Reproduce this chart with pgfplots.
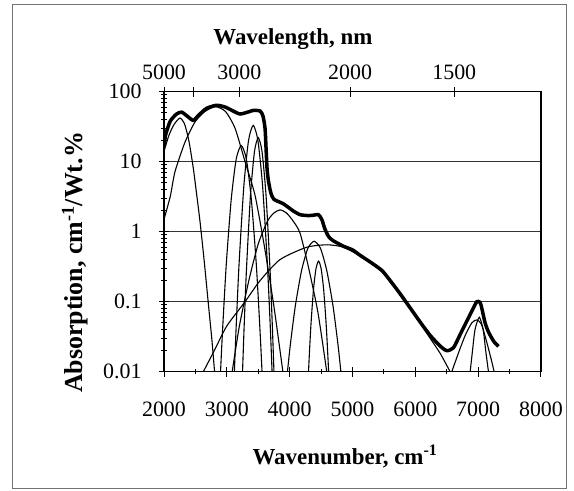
\documentclass[border=0pt]{standalone}
\usepackage{fontspec}
\setmainfont{Liberation Serif}
\usepackage{pgfplots}
\pgfplotsset{compat=1.18}
\begin{document}
\begin{tikzpicture}
\useasboundingbox (0,0) rectangle (574bp,491bp);
\draw[black!55, line width=0.8bp] (12.5bp,3bp) rectangle (566bp,487bp);
\begin{axis}[
  at={(164bp,119.3bp)}, anchor=south west,
  scale only axis, width=377bp, height=280bp,
  xmin=2000, xmax=8000, ymin=0.01, ymax=100, ymode=log,
  axis line style={line width=1.2bp},
  tick style={line width=1bp, black},
  tick align=center,
  major tick length=10bp, minor tick length=5bp,
  xtick={2000,3000,4000,5000,6000,7000,8000},
  xticklabels={2000,3000,4000,5000,6000,7000,8000},
  minor xtick={2500,3500,4500,5500,6500,7500},
  xtick pos=bottom, ytick pos=left,
  ytick={0.01,0.1,1,10,100},
  yticklabels={0.01,0.1,1,10,100},
  ymajorgrids, major grid style={line width=0.9bp, black!80},
  ticklabel style={font=\fontsize{22}{24}\selectfont},
  xticklabel style={yshift=-22bp},
  yticklabel style={xshift=-14bp},
  xlabel={Wavenumber, cm\textsuperscript{-1}},
  ylabel={Absorption, cm\textsuperscript{-1}/Wt.\%},
  label style={font=\fontsize{23}{26}\selectfont\bfseries},
  xlabel style={at={(rel axis cs:0.48,-0.333)}, anchor=base},
  ylabel style={at={(rel axis cs:-0.215,0.39)}, anchor=base,
    font=\fontsize{26}{28}\selectfont\bfseries},
  every axis plot/.append style={black, smooth, tension=0.4},
]
% component near 2250
\addplot[line width=1.1bp] coordinates {
  (2000,14)(2080,24)(2160,34)(2255,42)(2330,34)(2400,19)(2467,8)(2520,3.4)
  (2573,1.4)(2640,0.38)(2705,0.095)(2760,0.03)(2805,0.01)};
% broad component near 2820
\addplot[line width=1.1bp] coordinates {
  (2000,1.5)(2100,3.2)(2175,7.2)(2334,19)(2494,37)(2650,52)(2820,61)(2980,52)
  (3131,30)(3290,10)(3449,3.3)(3600,0.6)(3750,0.085)(3892,0.01)};
% narrow components 3200-3600
\addplot[line width=1.1bp] coordinates {
  (2900,0.01)(2930,0.036)(2990,0.33)(3070,2.9)(3150,11)(3230,17)(3310,11)
  (3390,2.9)(3470,0.33)(3530,0.036)(3560,0.01)};
\addplot[line width=1.1bp] coordinates {
  (3120,0.01)(3150,0.047)(3195,0.35)(3270,4.4)(3345,20)(3420,33)(3495,20)
  (3570,4.4)(3645,0.35)(3690,0.047)(3720,0.01)};
\addplot[line width=1.1bp] coordinates {
  (3250,0.01)(3275,0.043)(3310,0.26)(3375,3.2)(3440,14)(3500,22)(3560,14)
  (3625,3.2)(3690,0.26)(3725,0.043)(3750,0.01)};
% component near 3850
\addplot[line width=1.1bp] coordinates {
  (3085,0.01)(3200,0.045)(3350,0.2)(3500,0.67)(3650,1.43)(3750,1.85)(3847,2.05)
  (3950,1.85)(4060,1.4)(4166,0.95)(4300,0.31)(4450,0.07)(4590,0.01)};
% broad component near 4700
\addplot[line width=1.1bp] coordinates {
  (2626,0.01)(2800,0.02)(3000,0.045)(3290,0.1)(3529,0.2)(3847,0.4)(4272,0.6)
  (4600,0.65)(4856,0.6)(5121,0.45)(5280,0.36)(5467,0.27)(5758,0.125)
  (5970,0.068)(6236,0.03)(6400,0.018)(6554,0.01)};
% components near 4400
\addplot[line width=1.1bp] coordinates {
  (3965,0.01)(4010,0.024)(4090,0.087)(4190,0.28)(4290,0.58)(4390,0.73)
  (4490,0.58)(4590,0.28)(4690,0.087)(4770,0.024)(4815,0.01)};
\addplot[line width=1.1bp] coordinates {
  (4300,0.01)(4315,0.019)(4340,0.049)(4380,0.153)(4420,0.3)(4460,0.38)
  (4500,0.3)(4540,0.153)(4580,0.049)(4605,0.019)(4620,0.01)};
% components near 7000
\addplot[line width=1.1bp] coordinates {
  (6580,0.01)(6700,0.02)(6800,0.034)(6900,0.05)(6980,0.055)(7050,0.048)
  (7120,0.03)(7200,0.016)(7255,0.01)};
\addplot[line width=1.1bp] coordinates {
  (6873,0.01)(6910,0.02)(6950,0.04)(7018,0.06)(7080,0.04)(7120,0.02)(7164,0.01)};
% total
\addplot[line width=3.5bp] coordinates {
  (2000,17)(2030,25)(2100,38)(2200,48)(2282,51)(2380,44)(2467,39)(2560,47)
  (2680,58)(2839,64)(2980,60)(3100,53)(3210,48)(3330,51)(3422,54)(3529,53)
  (3575,45)(3608,30)(3625,15)(3640,8)(3661,5.4)(3700,3.6)(3750,2.9)(3900,2.5)
  (4050,2.0)(4166,1.75)(4300,1.7)(4378,1.72)(4457,1.75)(4511,1.5)(4560,1.1)
  (4620,0.85)(4697,0.74)(4856,0.62)(5000,0.55)(5121,0.46)(5280,0.37)
  (5467,0.28)(5600,0.2)(5758,0.13)(5970,0.07)(6100,0.048)(6236,0.033)
  (6400,0.023)(6502,0.020)(6607,0.022)(6720,0.035)(6820,0.053)(6920,0.08)
  (6979,0.10)(7030,0.098)(7059,0.08)(7110,0.05)(7164,0.037)(7250,0.027)
  (7323,0.023)};
\end{axis}
% wavelength scale on top
\begin{axis}[
  at={(164bp,119.3bp)}, anchor=south west,
  scale only axis, width=377bp, height=280bp,
  xmin=2000, xmax=8000, ymin=0, ymax=1,
  axis x line*=top, axis y line=none,
  axis line style={line width=1.2bp},
  tick style={line width=1bp, black},
  tick align=center, major tick length=10bp,
  xtick={2000,2467,3200,4962,6620},
  xticklabels={5000,,3000,2000,1500},
  ticklabel style={font=\fontsize{22}{24}\selectfont},
  xticklabel style={yshift=3bp},
  xlabel={Wavelength, nm},
  label style={font=\fontsize{23}{26}\selectfont\bfseries},
  xlabel style={at={(rel axis cs:0.342,1.167)}, anchor=base},
]
\end{axis}
\end{tikzpicture}
\end{document}
